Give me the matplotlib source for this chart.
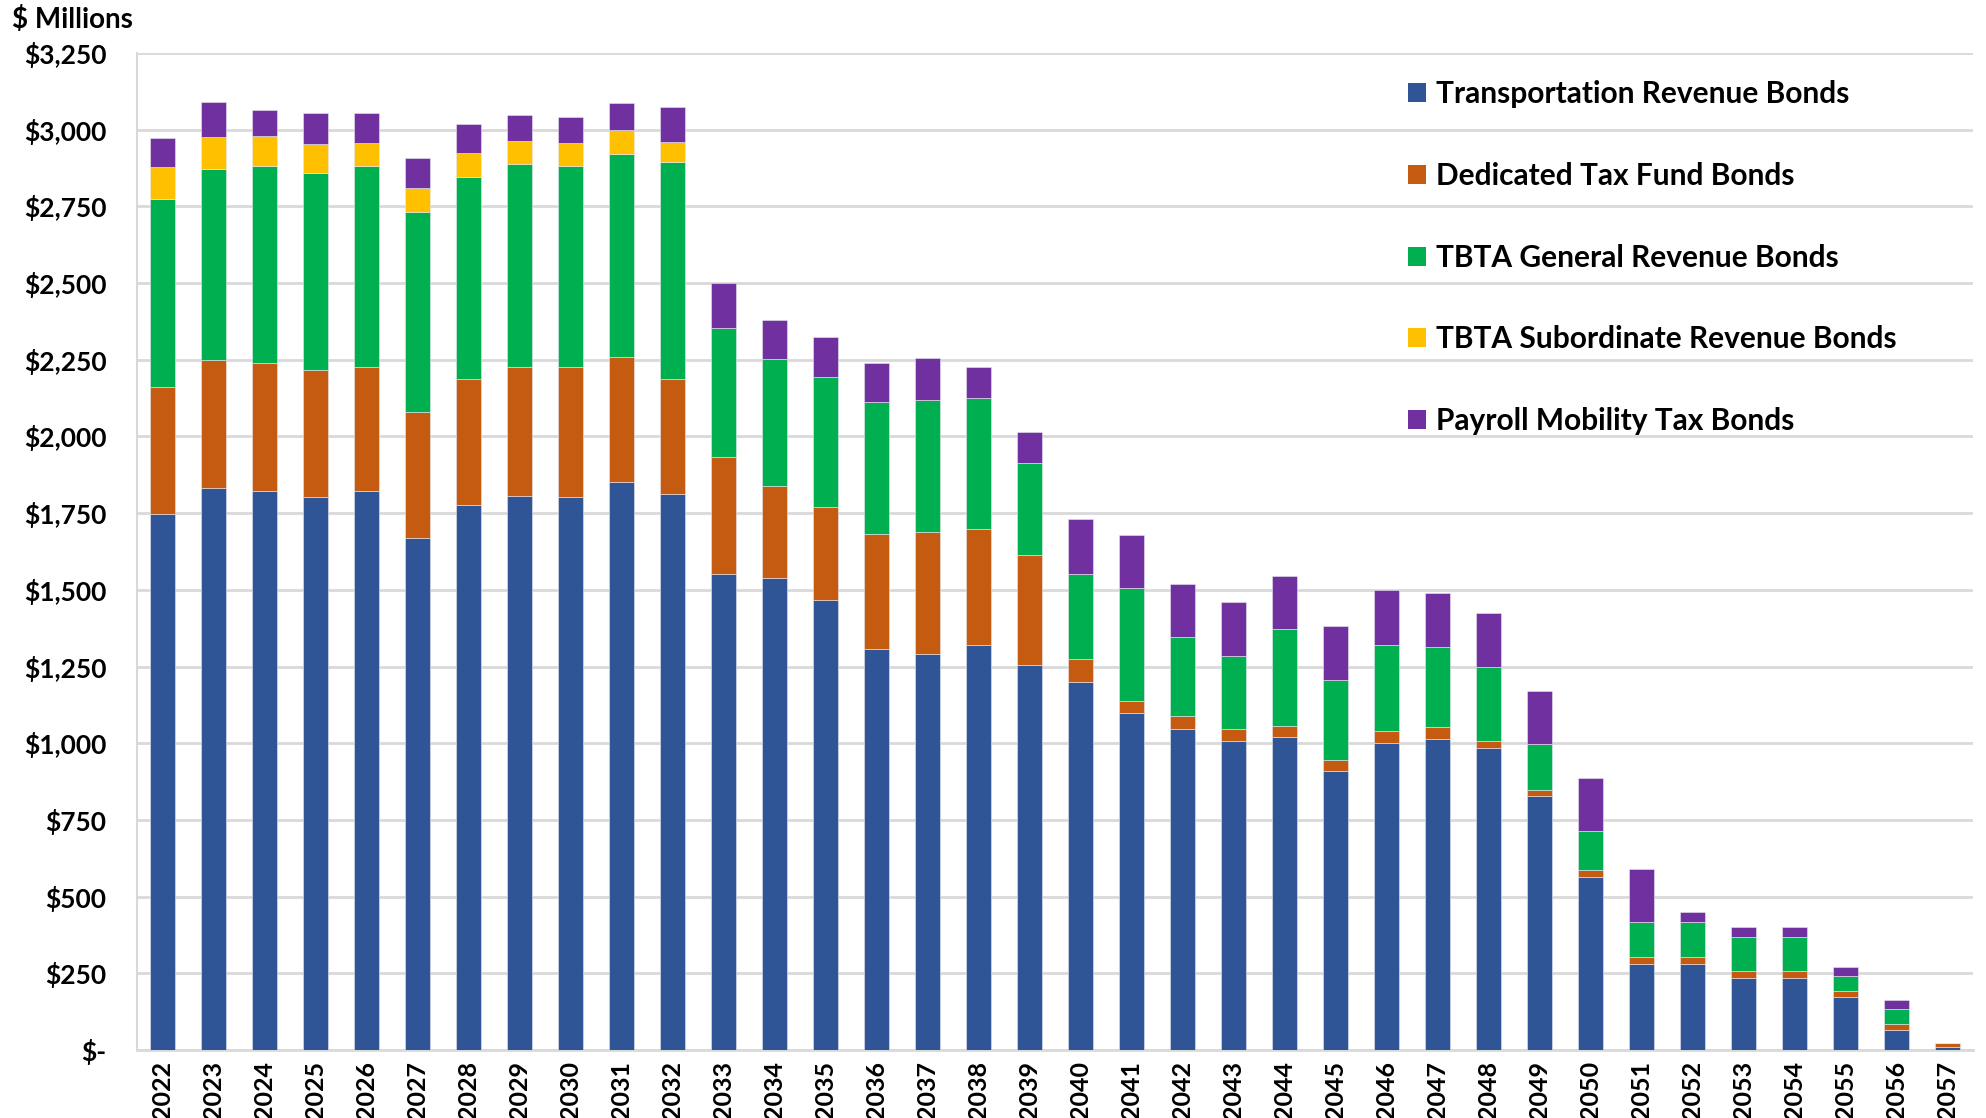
import matplotlib
matplotlib.use("Agg")
import matplotlib.pyplot as plt
from matplotlib.patches import Patch
import numpy as np

plt.rcParams['font.family'] = ['Lato', 'DejaVu Sans']

# anos e valores ($ milhoes)
anos = list(range(2022, 2058))

transportation = [1746, 1832, 1822, 1804, 1822, 1668, 1775, 1805, 1804, 1852, 1814,
                  1553, 1538, 1468, 1308, 1292, 1321, 1256, 1201, 1100, 1048, 1006,
                  1019, 908, 1002, 1014, 986, 827, 564, 282, 282, 234, 234, 173, 65, 10]
dedicated_tax = [416, 418, 418, 414, 406, 412, 411, 420, 421, 406, 374,
                 381, 300, 301, 374, 395, 376, 358, 75, 39, 40, 39,
                 38, 38, 37, 38, 21, 21, 22, 22, 22, 22, 22, 20, 20, 14]
tbta_general = [612, 622, 643, 640, 654, 653, 660, 663, 656, 664, 707,
                418, 416, 424, 429, 431, 430, 299, 276, 367, 258, 239,
                315, 259, 282, 263, 243, 150, 128, 114, 114, 112, 114, 48, 48, 0]
tbta_subordinate = [103, 104, 96, 94, 76, 77, 77, 76, 76, 76, 64,
                    0, 0, 0, 0, 0, 0, 0, 0, 0, 0, 0,
                    0, 0, 0, 0, 0, 0, 0, 0, 0, 0, 0, 0, 0, 0]
payroll_mobility = [96, 113, 86, 101, 96, 98, 95, 85, 83, 89, 116,
                    148, 127, 130, 128, 138, 98, 100, 180, 174, 174, 175,
                    174, 176, 177, 174, 173, 172, 172, 172, 32, 33, 31, 31, 31, 0]

series = [
    ("Transportation Revenue Bonds", transportation, "#2F5597"),
    ("Dedicated Tax Fund Bonds", dedicated_tax, "#C55A11"),
    ("TBTA General Revenue Bonds", tbta_general, "#00B050"),
    ("TBTA Subordinate Revenue Bonds", tbta_subordinate, "#FFC000"),
    ("Payroll Mobility Tax Bonds", payroll_mobility, "#7030A0"),
]

fig = plt.figure(figsize=(19.86, 11.18), dpi=100)
ax = fig.add_axes([0.069, 0.0608, 0.9245, 0.8918])

x = np.arange(len(anos))
base = np.zeros(len(anos))
for nome, valores, cor in series:
    v = np.array(valores, dtype=float)
    ax.bar(x, v, width=0.5, bottom=base, color=cor, edgecolor="#E8E8F0", linewidth=0.4, zorder=3)
    base += v

ax.set_xlim(-0.5, len(anos) - 0.5)
ax.set_ylim(0, 3250)
yt = np.arange(0, 3251, 250)
ax.set_yticks(yt)
ax.set_yticklabels(["$-" if t == 0 else "${:,}".format(t) for t in yt],
                   fontsize=19, fontweight="bold")
ax.set_xticks(x)
ax.set_xticklabels([str(a) for a in anos], rotation=90, fontsize=18, fontweight="bold")
ax.tick_params(axis="y", length=0, pad=22)
ax.tick_params(axis="x", length=0, pad=8)
ax.grid(axis="y", color="#D9D9D9", linewidth=2, zorder=0)

for s in ["top", "right"]:
    ax.spines[s].set_visible(False)
ax.spines["left"].set_color("#D9D9D9")
ax.spines["left"].set_linewidth(1.5)
ax.spines["bottom"].set_color("#D9D9D9")
ax.spines["bottom"].set_linewidth(2)

fig.text(0.006, 0.983, "$ Millions", fontsize=20, fontweight="bold", va="center", ha="left")

handles = [Patch(facecolor=c, label=n) for n, _, c in series]
leg = fig.legend(handles=handles, loc="upper left", bbox_to_anchor=(0.703, 0.939),
                 frameon=False, fontsize=21.5, handlelength=0.6, handleheight=0.6,
                 handletextpad=0.35, labelspacing=1.80, borderaxespad=0)
for t in leg.get_texts():
    t.set_fontweight("bold")

fig.savefig("out.png", dpi=100)
